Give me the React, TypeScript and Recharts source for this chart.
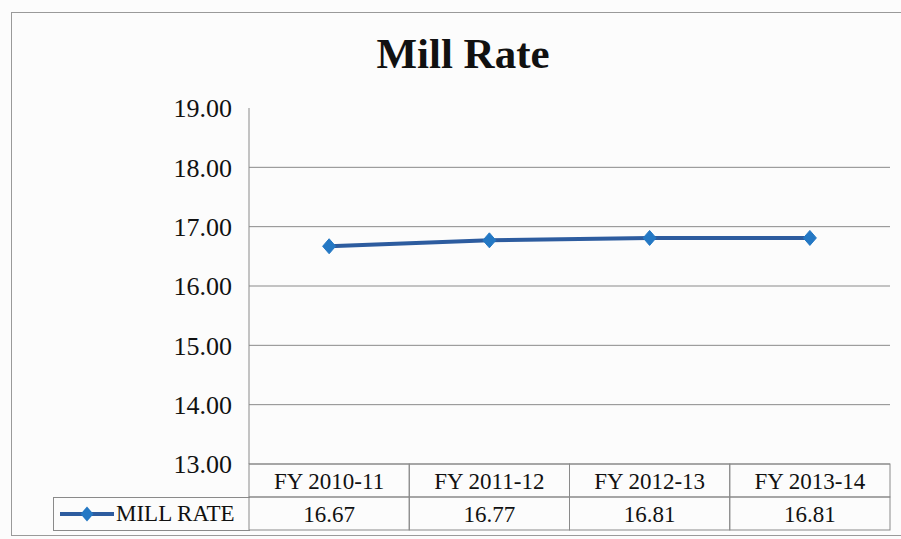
import React from 'react';
import { LineChart, Line, XAxis, YAxis, CartesianGrid } from 'recharts';

const categories = ['FY 2010-11', 'FY 2011-12', 'FY 2012-13', 'FY 2013-14'];
const millRate = [16.67, 16.77, 16.81, 16.81];
const yTicks = [13, 14, 15, 16, 17, 18, 19];
const gridValues = [14, 15, 16, 17, 18];
const seriesName = 'MILL RATE';
const chartTitle = 'Mill Rate';

const data = categories.map((c, i) => ({ category: c, value: millRate[i] }));

const FONT = '"Liberation Serif", "Times New Roman", serif';
const GRID = '#8a8a8a';
const LINE = '#2d5c9f';
const MARK = '#2478c4';
const W = 901;
const H = 539;
const PLOT_LEFT = 249;
const PLOT_RIGHT = 890;
const ROW = 33;

const Diamond = (props: any) => {
  const { cx, cy } = props;
  if (cx == null || cy == null) return null;
  return (
    <polygon
      points={`${cx},${cy - 7.5} ${cx + 6.5},${cy} ${cx},${cy + 7.5} ${cx - 6.5},${cy}`}
      fill={MARK}
      stroke={MARK}
    />
  );
};

const TableTick = (props: any) => {
  const { x, y, payload, index } = props;
  const bw = (PLOT_RIGHT - PLOT_LEFT) / categories.length;
  const left = x - bw / 2;
  const val = millRate[index];
  return (
    <g>
      <rect x={left} y={y} width={bw} height={ROW} fill="none" stroke={GRID} strokeWidth={1} />
      <rect x={left} y={y + ROW} width={bw} height={ROW} fill="none" stroke={GRID} strokeWidth={1} />
      <text
        x={x}
        y={y + ROW / 2 + 8}
        textAnchor="middle"
        fontFamily={FONT}
        fontSize={23}
        fill="#111"
      >
        {payload.value}
      </text>
      <text
        x={x}
        y={y + ROW + ROW / 2 + 8}
        textAnchor="middle"
        fontFamily={FONT}
        fontSize={23}
        fill="#111"
      >
        {val != null ? val.toFixed(2) : ''}
      </text>
    </g>
  );
};

const LegendCell = () => (
  <div
    style={{
      position: 'absolute',
      left: 53,
      top: 497,
      width: 197,
      height: ROW + 1,
      border: `1px solid ${GRID}`,
      borderRight: 'none',
      display: 'flex',
      alignItems: 'center',
      boxSizing: 'border-box',
      fontFamily: FONT,
      fontSize: 23,
      color: '#111',
    }}
  >
    <svg width={58} height={20} style={{ marginLeft: 4 }}>
      <line x1={2} y1={10} x2={56} y2={10} stroke={LINE} strokeWidth={4} />
      <polygon points="29,2.5 35.5,10 29,17.5 22.5,10" fill={MARK} />
    </svg>
    <span style={{ whiteSpace: 'nowrap' }}>{seriesName}</span>
  </div>
);

export default function App() {
  return (
    <div
      style={{
        position: 'absolute',
        left: 0,
        top: 0,
        width: W,
        height: H,
        background: '#fcfcfc',
        overflow: 'hidden',
      }}
    >
      <div
        style={{
          position: 'absolute',
          left: 11,
          top: 12,
          width: 900,
          height: 524,
          borderLeft: '1px solid #9a9a9a',
          borderTop: '1px solid #9a9a9a',
          borderBottom: '1px solid #9a9a9a',
          boxSizing: 'border-box',
        }}
      />
      <div
        style={{
          position: 'absolute',
          left: 263,
          width: 400,
          top: 29,
          textAlign: 'center',
          fontFamily: FONT,
          fontWeight: 'bold',
          fontSize: 43,
          lineHeight: '50px',
          color: '#111',
        }}
      >
        {chartTitle}
      </div>
      <div style={{ position: 'absolute', left: 0, top: 0 }}>
        <LineChart
          width={W}
          height={H}
          data={data}
          margin={{ top: 108, right: W - PLOT_RIGHT, bottom: 0, left: 0 }}
        >
          <CartesianGrid
            vertical={false}
            horizontalValues={gridValues}
            stroke={GRID}
            strokeWidth={1}
          />
          <XAxis
            dataKey="category"
            scale="band"
            height={75}
            axisLine={{ stroke: GRID }}
            tickLine={false}
            tickSize={0}
            tickMargin={0}
            interval={0}
            tick={<TableTick />}
          />
          <YAxis
            width={PLOT_LEFT}
            domain={[13, 19]}
            ticks={yTicks}
            interval={0}
            axisLine={{ stroke: GRID }}
            tickLine={false}
            tickSize={0}
            tickMargin={17}
            tickFormatter={(v: number) => v.toFixed(2)}
            tick={{ fontFamily: FONT, fontSize: 26, fill: '#111' }}
          />
          <Line
            type="linear"
            dataKey="value"
            name={seriesName}
            stroke={LINE}
            strokeWidth={4}
            dot={<Diamond />}
            activeDot={false}
            isAnimationActive={false}
          />
        </LineChart>
      </div>
      <LegendCell />
    </div>
  );
}
